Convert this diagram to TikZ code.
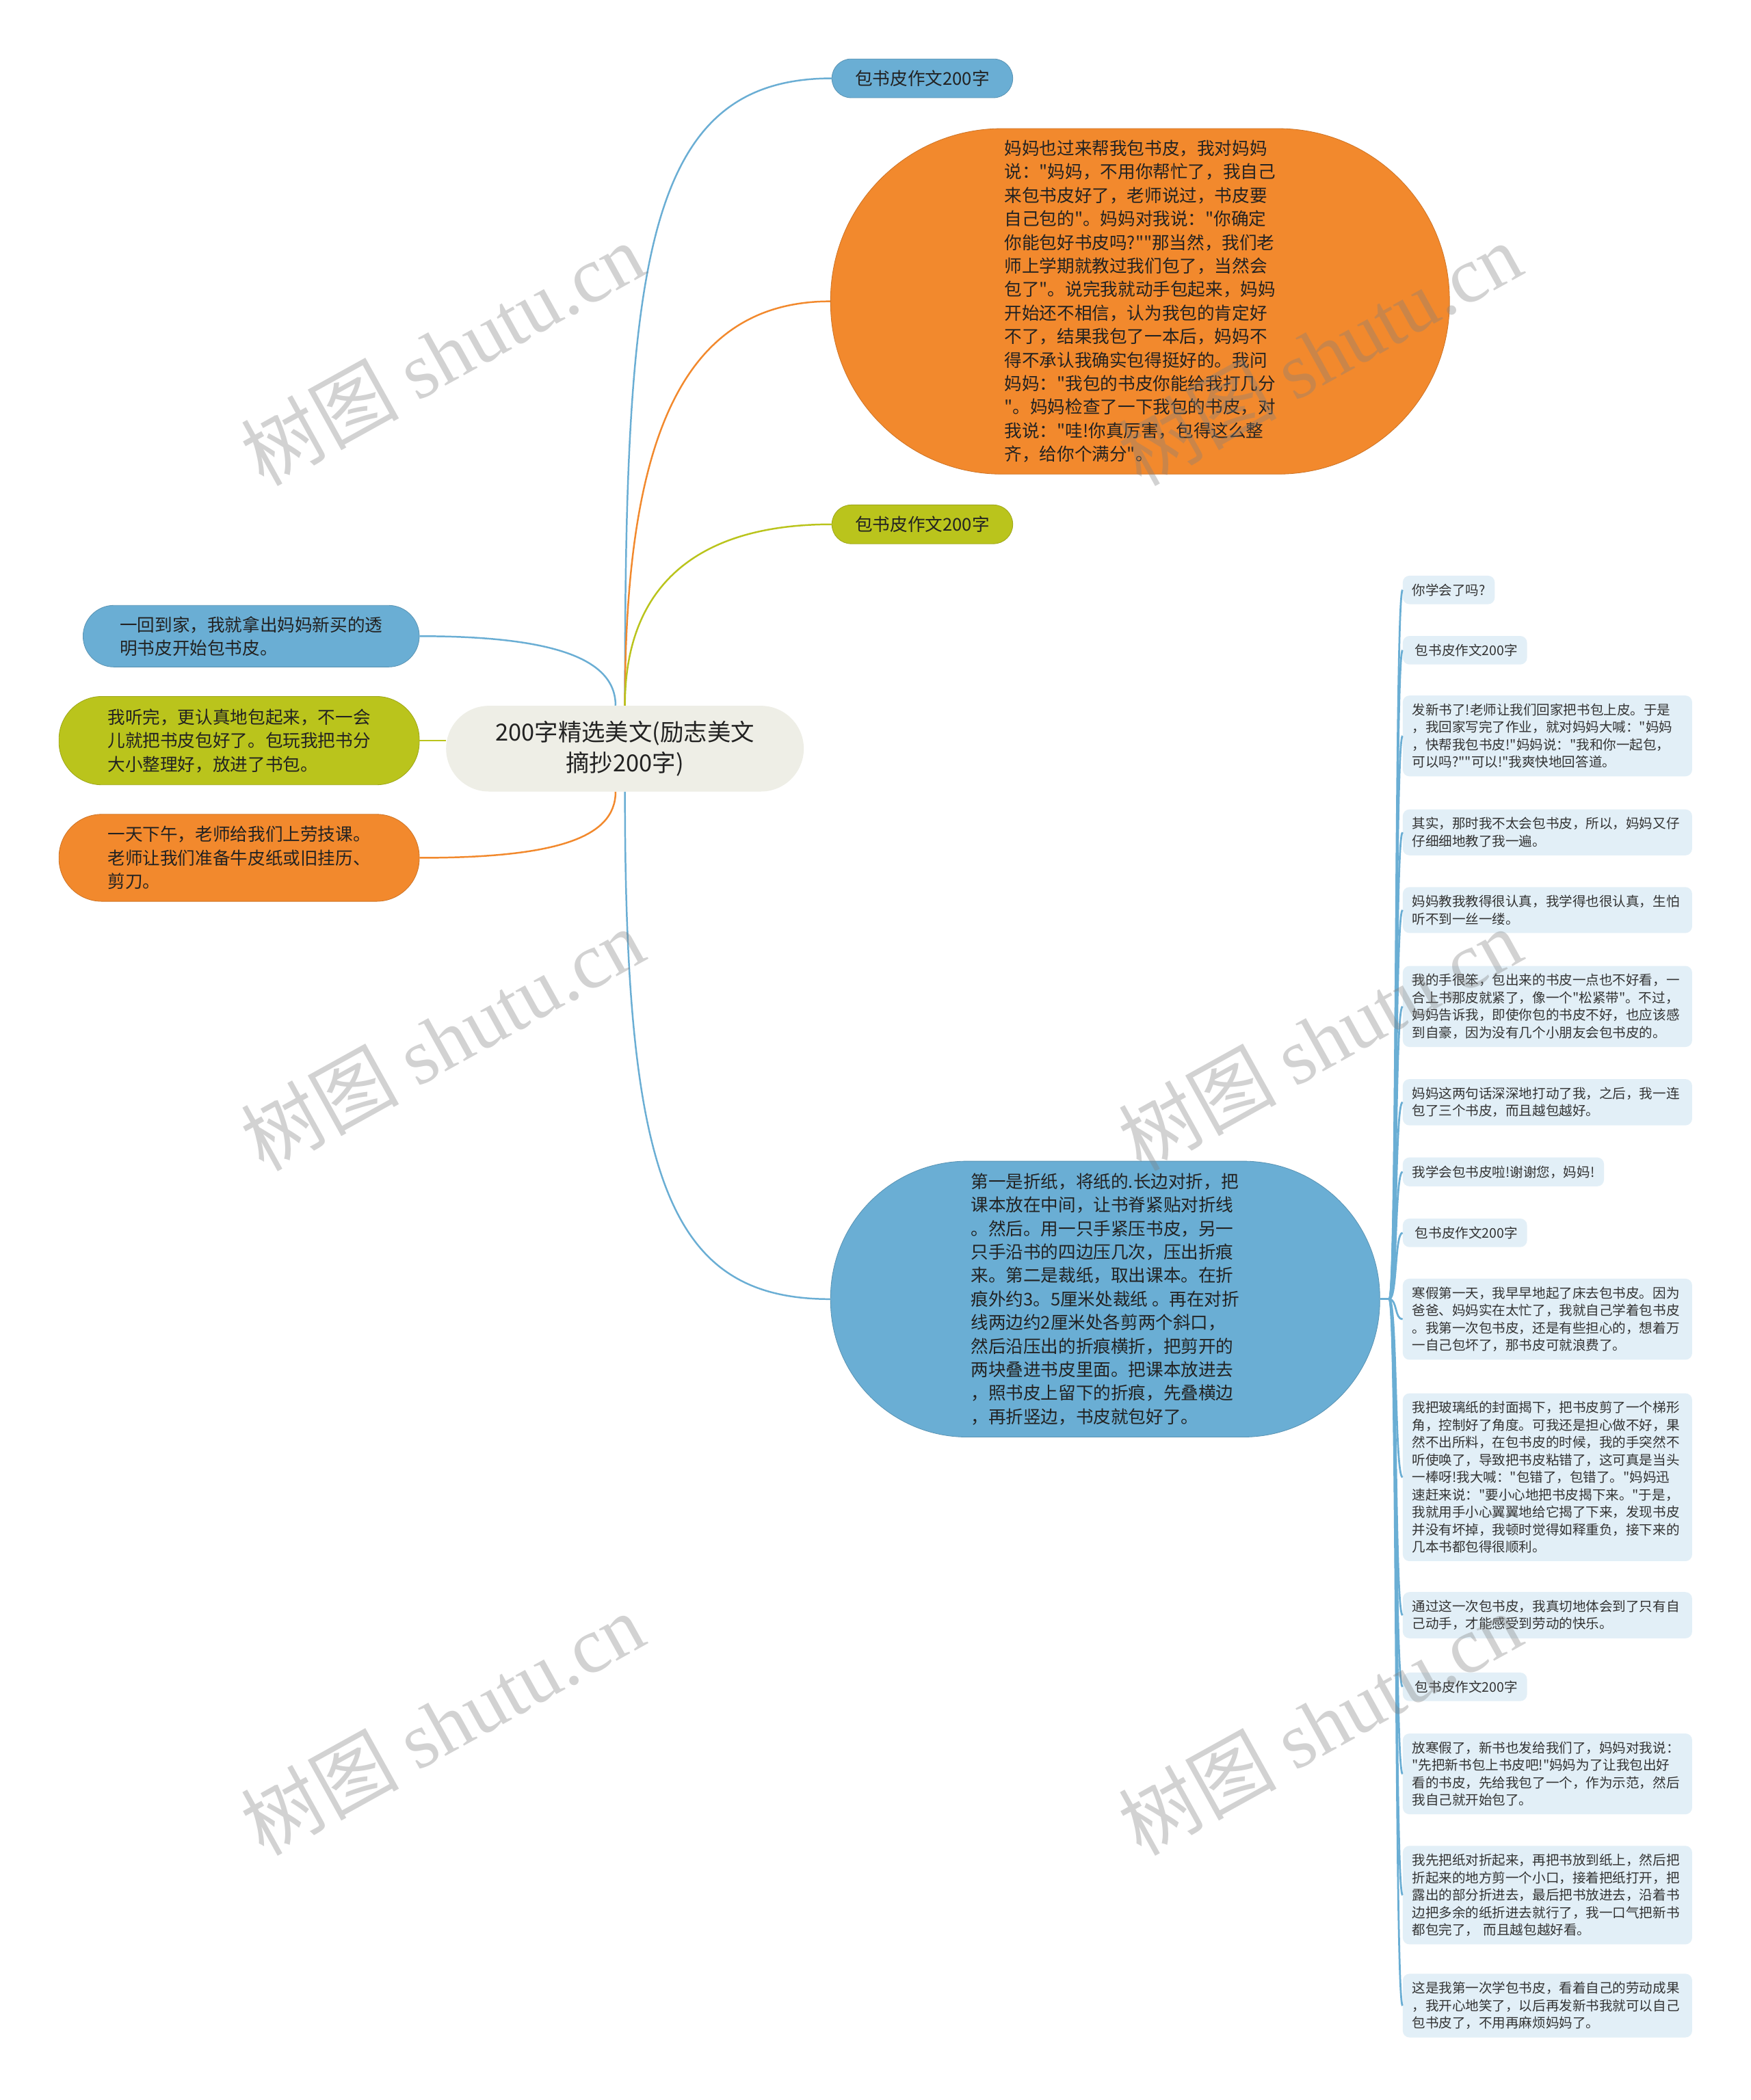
\documentclass[tikz,border=0pt]{standalone}
\usepackage{fontspec}
\newfontfamily\cjk{Noto Sans CJK SC}
\newfontfamily\wmserif{Liberation Serif}
\definecolor{cblue}{HTML}{6AAED4}
\definecolor{corange}{HTML}{F2892D}
\definecolor{cgreen}{HTML}{BAC41C}
\definecolor{ccenter}{HTML}{EEEEE6}
\definecolor{cpale}{HTML}{E2EFF7}
\definecolor{ctext}{HTML}{222222}
\definecolor{ctexttwo}{HTML}{333333}
\begin{document}
\begin{tikzpicture}[x=0.05cm,y=-0.05cm,
  mfont/.style={font=\cjk\fontsize{18.6pt}{25pt}\selectfont},
  rfont/.style={font=\cjk\fontsize{14.2pt}{18.5pt}\selectfont},
  pillbox/.style={mfont, text=ctext, inner sep=0pt, minimum width=6.75cm, minimum height=1.45cm, rounded corners=0.72cm, line width=0.6pt},
  bigbox/.style={mfont, text=ctext, align=left, inner sep=0pt, line width=0.6pt},
  rbox/.style={rfont, text=ctexttwo, fill=cpale, rounded corners=0.25cm, anchor=west, inner xsep=0.35cm, inner ysep=0.3cm, align=left},
  rwide/.style={rbox, text width=10.1cm},
  cb/.style={draw=cblue, line width=1.8pt},
  co/.style={draw=corange, line width=1.8pt},
  cg/.style={draw=cgreen, line width=1.8pt},
  rc/.style={draw=cblue, line width=2pt},
  wm/.style={text=black!50, opacity=0.35, font=\cjk\fontsize{84pt}{84pt}\selectfont, rotate=29, inner sep=0pt}
]
\useasboundingbox (0,0) rectangle (1307,1568);
\fill[white] (0,0) rectangle (1307,1568);

% central node
\node[bigbox, align=center, fill=ccenter, minimum width=13.35cm, minimum height=3.2cm, rounded corners=1.6cm,
  font=\cjk\fontsize{25pt}{33pt}\selectfont] (c) at (466.5,559) {200字精选美文(励志美文\\摘抄200字)};

% right-upper nodes
\node[pillbox, fill=cblue, draw=cblue!85!black] (tp1) at (688.5,58.5) {包书皮作文200字};
\node[bigbox, fill=corange, draw=corange!85!black, minimum width=23.1cm, minimum height=12.9cm, rounded corners=6.4cm] (ob) at (851,225) {妈妈也过来帮我包书皮，我对妈妈\\说："妈妈，不用你帮忙了，我自己\\来包书皮好了，老师说过，书皮要\\自己包的"。妈妈对我说："你确定\\你能包好书皮吗?""那当然，我们老\\师上学期就教过我们包了，当然会\\包了"。说完我就动手包起来，妈妈\\开始还不相信，认为我包的肯定好\\不了，结果我包了一本后，妈妈不\\得不承认我确实包得挺好的。我问\\妈妈："我包的书皮你能给我打几分\\"。妈妈检查了一下我包的书皮，对\\我说："哇!你真厉害，包得这么整\\齐，给你个满分"。};
\node[pillbox, fill=cgreen, draw=cgreen!85!black] (gp) at (688.5,391.5) {包书皮作文200字};
\node[bigbox, fill=cblue, draw=cblue!85!black, minimum width=20.5cm, minimum height=10.3cm, rounded corners=5.1cm] (bb) at (825,970) {第一是折纸，将纸的.长边对折，把\\课本放在中间，让书脊紧贴对折线\\。然后。用一只手紧压书皮，另一\\只手沿书的四边压几次，压出折痕\\来。第二是裁纸，取出课本。在折\\痕外约3。5厘米处裁纸 。再在对折\\线两边约2厘米处各剪两个斜口，\\然后沿压出的折痕横折，把剪开的\\两块叠进书皮里面。把课本放进去\\，照书皮上留下的折痕，先叠横边\\，再折竖边，书皮就包好了。};

% left nodes
\node[bigbox, fill=cblue, draw=cblue!85!black, minimum width=12.55cm, minimum height=2.3cm, rounded corners=1.15cm] (lb) at (187.5,475) {一回到家，我就拿出妈妈新买的透\\明书皮开始包书皮。};
\node[bigbox, fill=cgreen, draw=cgreen!85!black, minimum width=13.45cm, minimum height=3.3cm, rounded corners=1.6cm] (lg) at (178.5,553) {我听完，更认真地包起来，不一会\\儿就把书皮包好了。包玩我把书分\\大小整理好，放进了书包。};
\node[bigbox, fill=corange, draw=corange!85!black, minimum width=13.45cm, minimum height=3.25cm, rounded corners=1.6cm] (lo) at (178.5,640.5) {一天下午，老师给我们上劳技课。\\老师让我们准备牛皮纸或旧挂历、\\剪刀。};

% connectors from central node
\draw[cb] (c.north) .. controls +(0,-330) and +(-140,0) .. (tp1.west);
\draw[co] (c.north) .. controls +(0,-200) and +(-110,0) .. (ob.west);
\draw[cg] (c.north) .. controls +(0,-90) and +(-100,0) .. (gp.west);
\draw[cb] (c.south) .. controls +(0,290) and +(-120,0) .. (bb.west);
\draw[cb] (lb.east) .. controls +(100,0) and +(0,-35) .. ([xshift=-0.35cm]c.north);
\draw[cg] (lg.east) -- (lg.east -| c.west);
\draw[co] (lo.east) .. controls +(100,0) and +(0,35) .. ([xshift=-0.35cm]c.south);

% right column
\node[rbox] (r1) at (1047,440.5) {你学会了吗?};
\node[rbox] (r2) at (1047,485.5) {\ 包书皮作文200字};
\node[rwide] (r3) at (1047,549.5) {发新书了!老师让我们回家把书包上皮。于是\\，我回家写完了作业，就对妈妈大喊："妈妈\\，快帮我包书皮!"妈妈说："我和你一起包，\\可以吗?""可以!"我爽快地回答道。};
\node[rwide] (r4) at (1047,621.5) {其实，那时我不太会包书皮，所以，妈妈又仔\\仔细细地教了我一遍。};
\node[rwide] (r5) at (1047,679.5) {妈妈教我教得很认真，我学得也很认真，生怕\\听不到一丝一缕。};
\node[rwide] (r6) at (1047,751.5) {我的手很笨，包出来的书皮一点也不好看，一\\合上书那皮就紧了，像一个"松紧带"。不过，\\妈妈告诉我，即使你包的书皮不好，也应该感\\到自豪，因为没有几个小朋友会包书皮的。};
\node[rwide] (r7) at (1047,823) {妈妈这两句话深深地打动了我，之后，我一连\\包了三个书皮，而且越包越好。};
\node[rbox] (r8) at (1047,875) {我学会包书皮啦!谢谢您，妈妈!};
\node[rbox] (r9) at (1047,920.5) {\ 包书皮作文200字};
\node[rwide] (r10) at (1047,985) {寒假第一天，我早早地起了床去包书皮。因为\\爸爸、妈妈实在太忙了，我就自己学着包书皮\\。我第一次包书皮，还是有些担心的，想着万\\一自己包坏了，那书皮可就浪费了。};
\node[rwide] (r11) at (1047,1103) {我把玻璃纸的封面揭下，把书皮剪了一个梯形\\角，控制好了角度。可我还是担心做不好，果\\然不出所料，在包书皮的时候，我的手突然不\\听使唤了，导致把书皮粘错了，这可真是当头\\一棒呀!我大喊："包错了，包错了。"妈妈迅\\速赶来说："要小心地把书皮揭下来。"于是，\\我就用手小心翼翼地给它揭了下来，发现书皮\\并没有坏掉，我顿时觉得如释重负，接下来的\\几本书都包得很顺利。};
\node[rwide] (r12) at (1047,1206) {通过这一次包书皮，我真切地体会到了只有自\\己动手，才能感受到劳动的快乐。};
\node[rbox] (r13) at (1047,1259.5) {\ 包书皮作文200字};
\node[rwide] (r14) at (1047,1324.5) {放寒假了，新书也发给我们了，妈妈对我说：\\"先把新书包上书皮吧!"妈妈为了让我包出好\\看的书皮，先给我包了一个，作为示范，然后\\我自己就开始包了。};
\node[rwide] (r15) at (1047,1415) {我先把纸对折起来，再把书放到纸上，然后把\\折起来的地方剪一个小口，接着把纸打开，把\\露出的部分折进去，最后把书放进去，沿着书\\边把多余的纸折进去就行了，我一口气把新书\\都包完了， 而且越包越好看。};
\node[rwide] (r16) at (1047,1497.5) {这是我第一次学包书皮，看着自己的劳动成果\\，我开心地笑了，以后再发新书我就可以自己\\包书皮了，不用再麻烦妈妈了。};

\coordinate (hub) at (1037,970);
\draw[rc] (bb.east) -- (hub);
\foreach \r in {r1,r2,r3,r4,r5,r6,r7,r8,r9,r10,r11,r12,r13,r14,r15,r16}
  \draw[rc] (hub) .. controls +(6,0) and +(-6,0) .. (\r.west);

% watermarks
\node[wm] (w1) at (330,264) {树图 {\wmserif shutu.cn}};
\node[wm] (w2) at (985,264) {树图 {\wmserif shutu.cn}};
\node[wm] (w3) at (330,776) {树图 {\wmserif shutu.cn}};
\node[wm] (w4) at (985,776) {树图 {\wmserif shutu.cn}};
\node[wm] (w5) at (330,1287) {树图 {\wmserif shutu.cn}};
\node[wm] (w6) at (985,1287) {树图 {\wmserif shutu.cn}};
\end{tikzpicture}
\end{document}
